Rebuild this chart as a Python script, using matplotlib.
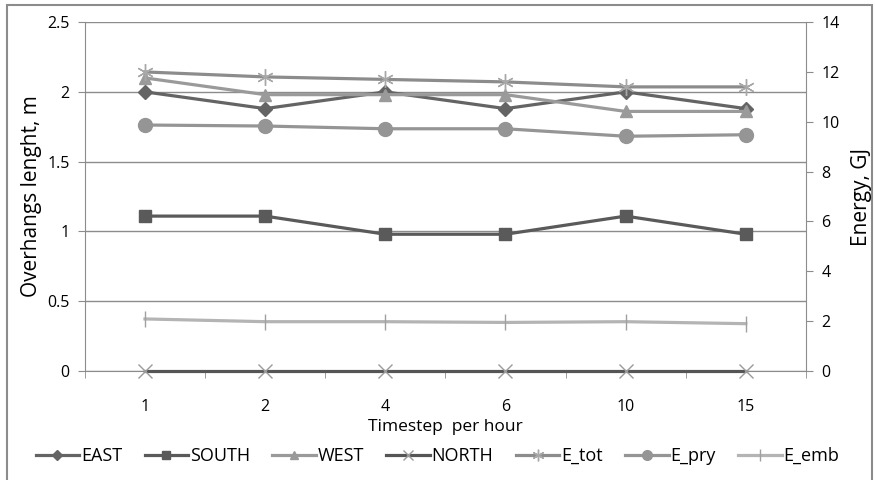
import matplotlib.pyplot as plt
from matplotlib.patches import Rectangle

plt.rcParams['font.family'] = ['Open Sans', 'DejaVu Sans']

# data
timesteps = ['1', '2', '4', '6', '10', '15']
east = [2.0, 1.88, 2.0, 1.88, 2.0, 1.88]
south = [1.11, 1.11, 0.98, 0.98, 1.11, 0.98]
west = [2.1, 1.98, 1.98, 1.98, 1.86, 1.86]
north = [0, 0, 0, 0, 0, 0]
e_tot = [12.0, 11.8, 11.7, 11.6, 11.4, 11.4]
e_pry = [9.87, 9.83, 9.72, 9.72, 9.42, 9.48]
e_emb = [2.09, 1.98, 1.98, 1.95, 1.98, 1.9]

fig = plt.figure(figsize=(8.75, 4.8), dpi=100)
fig.patches.append(Rectangle((0.008, -0.05), 0.988, 1.04, transform=fig.transFigure,
                             fill=False, edgecolor='#8c8c8c', lw=1.5))
ax = fig.add_axes([0.097, 0.227, 0.824, 0.727])
ax2 = ax.twinx()

x = range(len(timesteps))
lw = 2.3
ax.plot(x, east, color='#646464', lw=lw, marker='D', ms=7, label='EAST')
ax.plot(x, south, color='#5a5a5a', lw=lw, marker='s', ms=9, label='SOUTH')
ax.plot(x, west, color='#9a9a9a', lw=lw, marker='^', ms=9, label='WEST')
ax.plot(x, north, color='#555555', lw=lw, marker='x', ms=10, mew=1, mec='#9a9a9a',
        label='NORTH', clip_on=False, zorder=5)
ax2.plot(x, e_tot, color='#8c8c8c', lw=lw, marker=(6, 2, 0), ms=12, mew=1, mec='#a8a8a8', label='E_tot')
ax2.plot(x, e_pry, color='#959595', lw=lw, marker='o', ms=10, label='E_pry')
ax2.plot(x, e_emb, color='#b4b4b4', lw=lw, marker='|', ms=12, mew=1, mec='#a0a0a0', label='E_emb')

ax.set_xlim(-0.5, len(timesteps) - 0.5)
ax.set_ylim(0, 2.5)
ax2.set_ylim(0, 14)
ax.set_yticks([0, 0.5, 1, 1.5, 2, 2.5])
ax.set_yticklabels(['0', '0.5', '1', '1.5', '2', '2.5'])
ax2.set_yticks(range(0, 15, 2))
ax.set_xticks(list(x))
ax.set_xticklabels(timesteps)
ax.set_xticks([i - 0.5 for i in range(len(timesteps) + 1)], minor=True)
ax.tick_params(axis='x', which='major', length=0, pad=20, labelsize=11.5)
ax.tick_params(axis='x', which='minor', length=5, color='#8c8c8c')
ax.tick_params(axis='y', length=5, color='#8c8c8c', labelsize=11.5, pad=6)
ax2.tick_params(axis='y', length=5, color='#8c8c8c', labelsize=11.5, pad=6)
ax.grid(axis='y', color='#8c8c8c', lw=1)
ax.set_axisbelow(True)

for a in (ax, ax2):
    for s in a.spines.values():
        s.set_visible(False)
ax.spines['left'].set_visible(True)
ax.spines['bottom'].set_visible(True)
ax2.spines['right'].set_visible(True)
for s in (ax.spines['left'], ax.spines['bottom'], ax2.spines['right']):
    s.set_color('#8c8c8c')

ax.set_xlabel('Timestep  per hour', fontsize=12.5, labelpad=3)
ax.set_ylabel('Overhangs lenght, m', fontsize=15, labelpad=4)
ax2.set_ylabel('Energy, GJ', fontsize=15, labelpad=8)

h1, l1 = ax.get_legend_handles_labels()
h2, l2 = ax2.get_legend_handles_labels()
fig.legend(h1 + h2, l1 + l2, loc='center', bbox_to_anchor=(0.5, 0.05), ncol=7,
           frameon=False, fontsize=13, handlelength=2.4, handletextpad=0.1,
           columnspacing=1.25, markerscale=0.7)

fig.savefig('out.png', dpi=100)
